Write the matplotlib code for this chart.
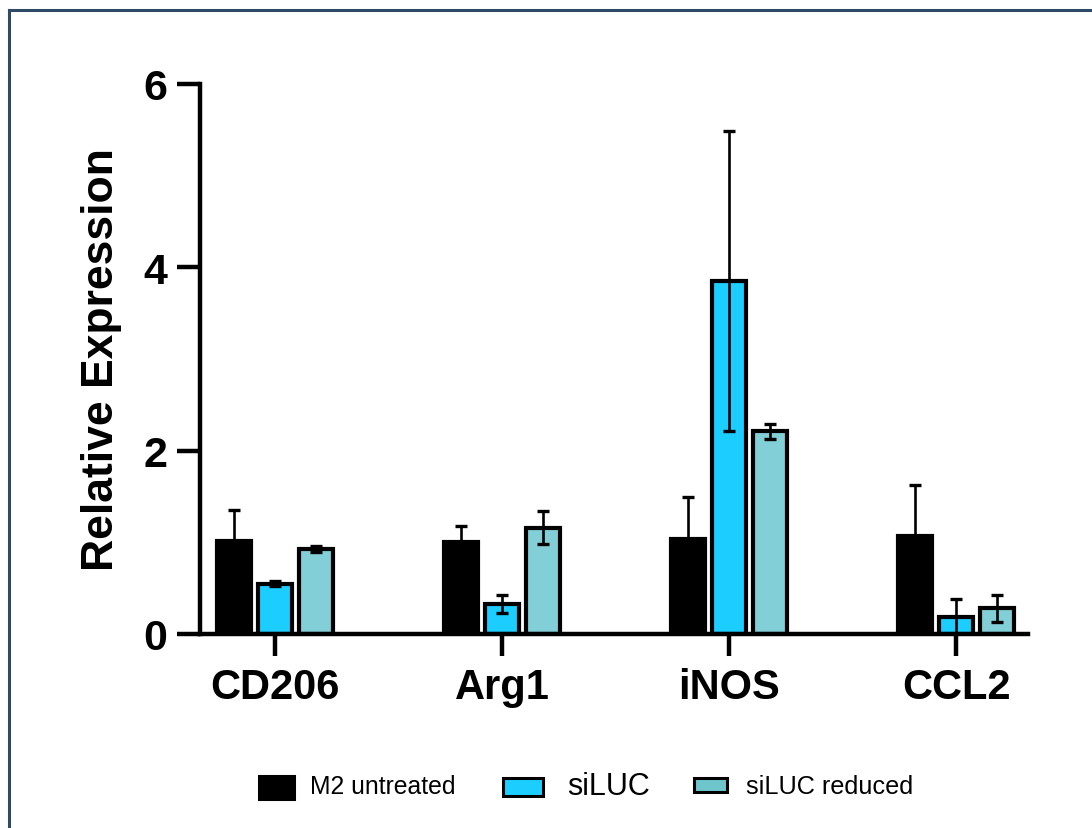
import matplotlib
matplotlib.use("Agg")
import matplotlib.pyplot as plt
import numpy as np
from matplotlib.patches import Rectangle
from matplotlib.lines import Line2D

categories = ["CD206", "Arg1", "iNOS", "CCL2"]
series_names = ["M2 untreated", "siLUC", "siLUC reduced"]
m2_untreated = [1.02, 1.00, 1.04, 1.07]
m2_untreated_err = [0.33, 0.18, 0.45, 0.56]
siluc = [0.55, 0.33, 3.85, 0.19]
siluc_err = [0.03, 0.10, 1.64, 0.19]
siluc_reduced = [0.93, 1.16, 2.21, 0.28]
siluc_reduced_err = [0.03, 0.18, 0.08, 0.15]
yticks = [0, 2, 4, 6]

colors = ["#000000", "#1CCEFF", "#82CFD8"]
legend_colors = ["#000000", "#1CCEFF", "#6EC6CC"]

plt.rcParams['font.family'] = ['Liberation Sans', 'DejaVu Sans']

W, H = 1092, 829
fig = plt.figure(figsize=(W / 100, H / 100), dpi=100)
fig.patch.set_facecolor("white")

# axes placement in pixels
left_px, right_px, bottom_px, top_px = 200, 1028, 635, 85
ax = fig.add_axes([left_px / W, 1 - bottom_px / H,
                   (right_px - left_px) / W, (bottom_px - top_px) / H])

x = np.arange(len(categories))
width = 0.15
offset = 0.18
values = [m2_untreated, siluc, siluc_reduced]
errs = [m2_untreated_err, siluc_err, siluc_reduced_err]
for i, (vals, er, c) in enumerate(zip(values, errs, colors)):
    xs = x + (i - 1) * offset
    ax.bar(xs, vals, width=width, color=c, edgecolor="black",
           linewidth=3.0, zorder=2, label=series_names[i])
    ax.errorbar(xs, vals, yerr=er, fmt="none", ecolor="black",
                elinewidth=1.9, capsize=4.0, capthick=2.4, zorder=3)

ax.set_ylim(0, 6)
ax.set_xlim(-0.33, 3.317)
ax.set_yticks(yticks)
ax.set_yticklabels([str(t) for t in yticks])
ax.set_xticks(x)
ax.set_xticklabels(categories)

for s in ["top", "right"]:
    ax.spines[s].set_visible(False)
for s in ["left", "bottom"]:
    ax.spines[s].set_linewidth(3.2)
    ax.spines[s].set_zorder(4)

ax.tick_params(axis="y", length=16.5, width=3.2, pad=7,
               labelsize=31)
ax.tick_params(axis="x", length=16, width=3.2, pad=8,
               labelsize=30)
for lab in ax.get_xticklabels() + ax.get_yticklabels():
    lab.set_fontweight("bold")

ax.set_ylabel("Relative Expression", fontsize=32, fontweight="bold")
ax.yaxis.set_label_coords(-0.094, 0.5)

# legend drawn manually in figure pixel coordinates
def px_rect(x0, y0, x1, y1, fc):
    r = Rectangle((x0 / W, 1 - y1 / H), (x1 - x0) / W, (y1 - y0) / H,
                  transform=fig.transFigure, facecolor=fc,
                  edgecolor="black", linewidth=2.2)
    fig.add_artist(r)

leg_rects = [(259, 777, 294, 800), (503, 779, 543, 797), (694, 779, 727, 793)]
leg_text_x = [310, 567, 746]
leg_sizes = [17.8, 22, 18.2]
for (x0, y0, x1, y1), fc, tx, name, fs in zip(leg_rects, legend_colors,
                                              leg_text_x, series_names, leg_sizes):
    px_rect(x0, y0, x1, y1, fc)
    fig.text(tx / W, 1 - 787 / H, name, fontsize=fs, va="center", ha="left")

# frame lines (top and left)
frame_c = "#2E4A66"
fig.add_artist(Line2D([8.5 / W, 1.0], [1 - 10.5 / H, 1 - 10.5 / H],
                      transform=fig.transFigure, color=frame_c, linewidth=2.2))
fig.add_artist(Line2D([8.5 / W, 8.5 / W], [0, 1 - 10.5 / H],
                      transform=fig.transFigure, color=frame_c, linewidth=2.2))

fig.savefig("out.png", dpi=100, facecolor="white")
